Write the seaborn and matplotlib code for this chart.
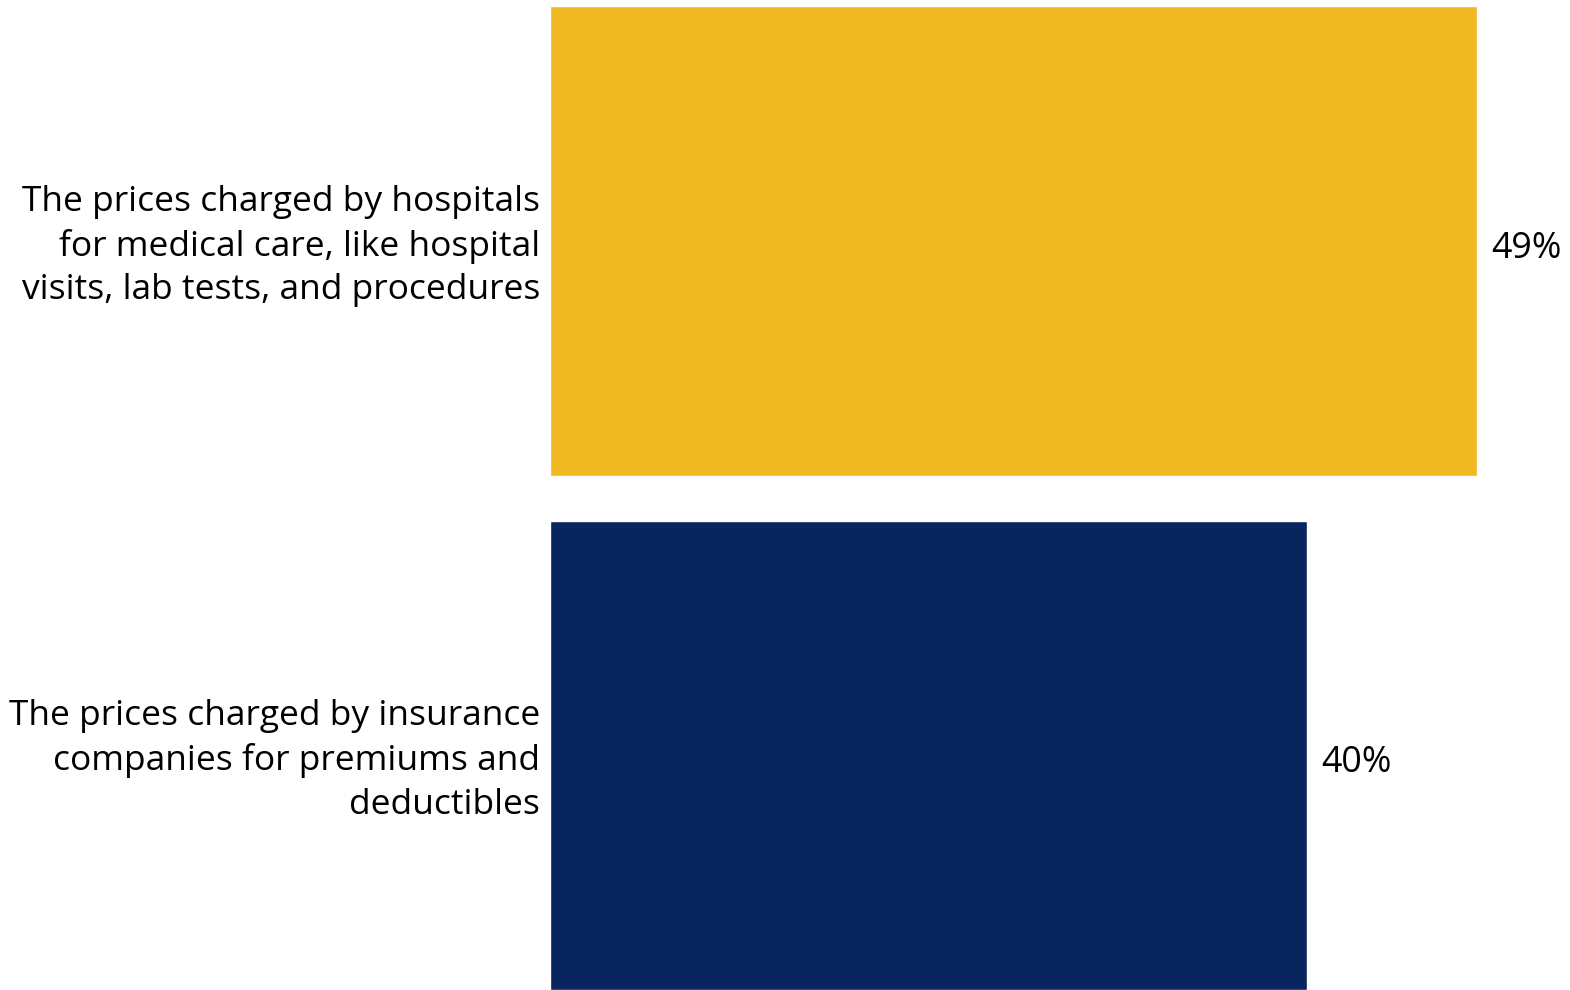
import matplotlib
matplotlib.use("Agg")
import matplotlib.pyplot as plt
import seaborn as sns
import pandas as pd

categories = [
    "The prices charged by hospitals\nfor medical care, like hospital\nvisits, lab tests, and procedures",
    "The prices charged by insurance\ncompanies for premiums and\ndeductibles",
]
values = [49, 40]
value_labels = ["49%", "40%"]
colors = ["#F0B922", "#08255F"]

sns.set_theme(style="white")
plt.rcParams['font.family'] = ['Open Sans', 'DejaVu Sans']

df = pd.DataFrame({"category": categories, "value": values})

fig = plt.figure(figsize=(15.7, 9.9), dpi=100)
ax = fig.add_axes([550/1570, 0, 1020/1570, 1])
sns.barplot(data=df, y="category", x="value", hue="category", palette=colors,
            legend=False, width=0.912, saturation=1, ax=ax, orient="h")
ax.set_xlim(0, 1020/18.92)
ax.set_ylim(1.456, -0.4685)
ax.set_xlabel("")
ax.set_ylabel("")
ax.set_xticks([])
ax.set_yticks([])
for s in ax.spines.values():
    s.set_visible(False)

for i, (cat, v, lab) in enumerate(zip(categories, values, value_labels)):
    ax.annotate(cat, xy=(0, i), xytext=(-10, -5), textcoords="offset pixels",
                ha="right", va="center", multialignment="right",
                fontsize=25.5, linespacing=1.37, color="black")
    ax.annotate(lab, xy=(v, i), xytext=(14, -8), textcoords="offset pixels",
                ha="left", va="center", fontsize=25.8, color="black")

fig.savefig("out.png", dpi=100)
